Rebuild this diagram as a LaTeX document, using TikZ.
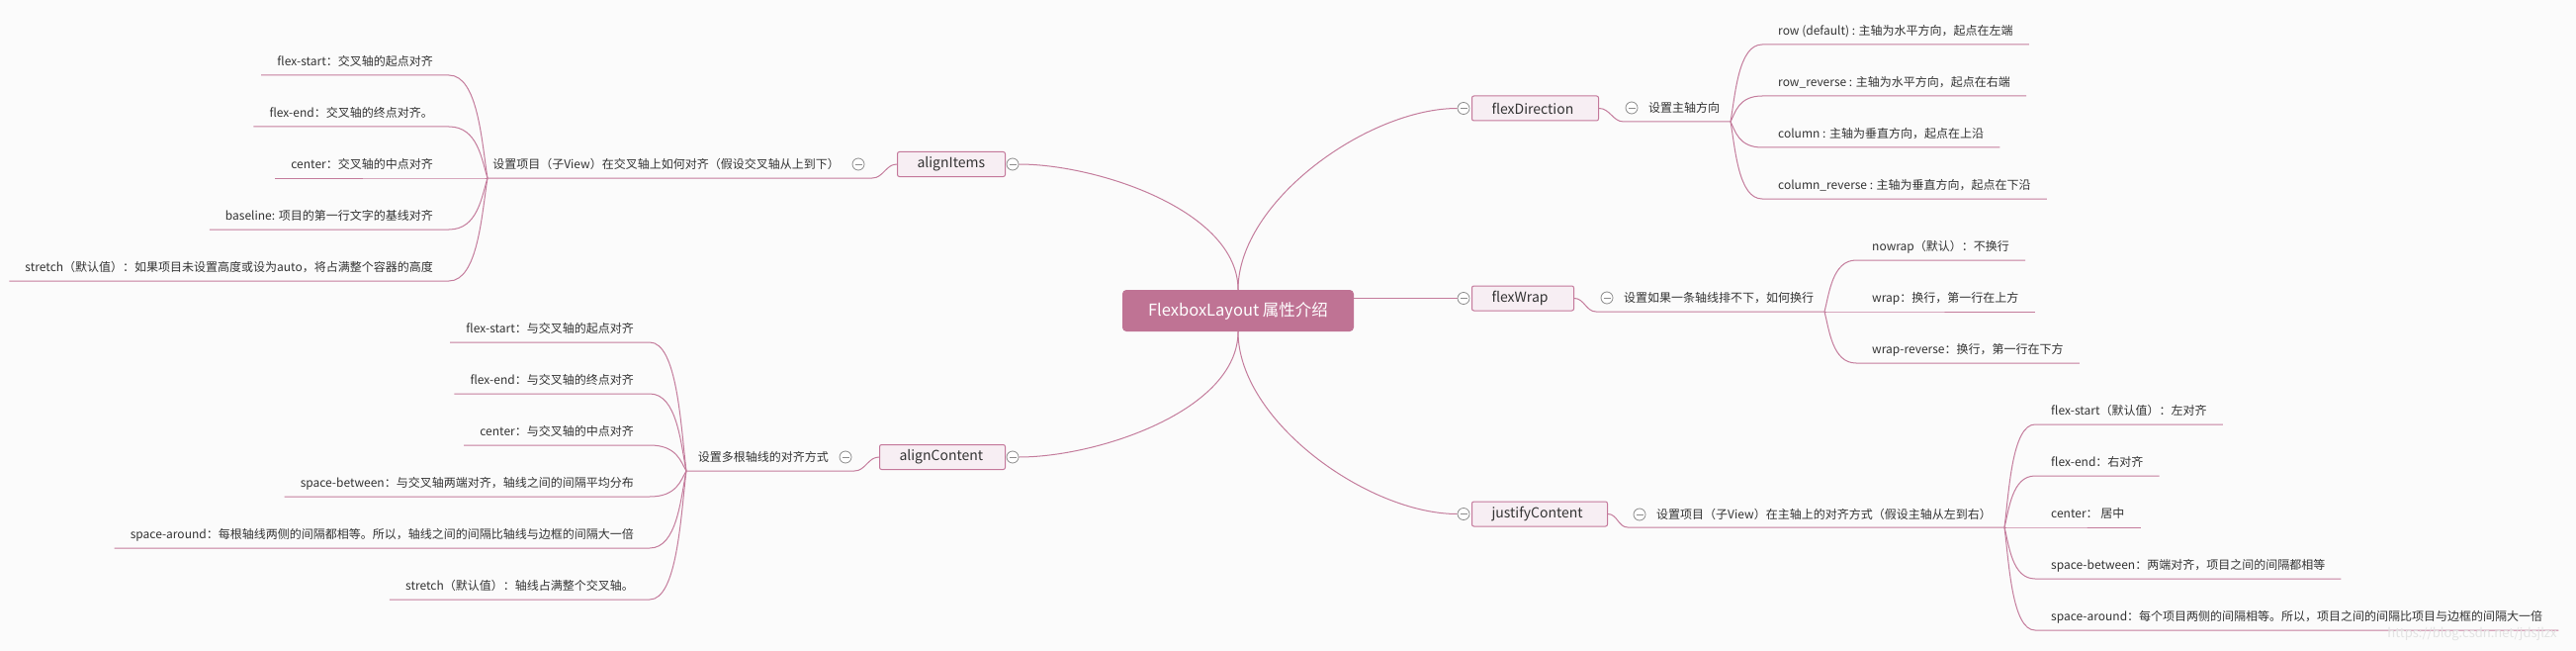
\documentclass[tikz,border=0pt]{standalone}
\usepackage{fontspec}
\setmainfont{Noto Sans CJK SC}
\usetikzlibrary{calc,backgrounds}
\definecolor{bg}{HTML}{FBFBFB}
\definecolor{rootfill}{HTML}{BF7394}
\definecolor{boxfill}{HTML}{F7EEF3}
\definecolor{boxline}{HTML}{C4789B}
\definecolor{linkc}{HTML}{C47C9C}
\definecolor{txt}{HTML}{333333}
\definecolor{btnc}{HTML}{8C8C8C}
\begin{document}
\begin{tikzpicture}[x=1pt,y=-1pt,
  conn/.style={draw=linkc, line width=1pt},
  rootbox/.style={rectangle, rounded corners=4pt, fill=rootfill, text=white, minimum width=234pt, minimum height=42pt, inner sep=0pt, font=\fontsize{16.5}{18}\selectfont},
  kbox/.style={rectangle, rounded corners=2pt, draw=boxline, line width=1pt, fill=boxfill, text=txt, minimum height=25pt, inner xsep=20pt, inner ysep=0pt, align=left, anchor=west, font=\fontsize{14}{16}\selectfont},
  btn/.style={circle, draw=btnc, fill=white, line width=0.8pt, minimum size=12pt, inner sep=0pt,
    path picture={\draw[btnc, line width=0.8pt] ([xshift=2.5pt]path picture bounding box.west) -- ([xshift=-2.5pt]path picture bounding box.east);}},
  sub/.style={inner sep=0pt, text=txt, font=\fontsize{12}{14}\selectfont, text height=9pt, text depth=3pt},
  leaf/.style={inner xsep=16pt, inner ysep=6.4pt, text=txt, font=\fontsize{12}{14}\selectfont, text height=9pt, text depth=3pt},
  leafR/.style={leaf, anchor=south west},
  leafL/.style={leaf, anchor=south east},
  branch/.style={to path={let \p1=(\tikztostart), \p2=(\tikztotarget) in
     .. controls ({\x1+0.15*(\x2-\x1)},{\y1+0.35*(\y2-\y1)}) and ({\x1+0.25*(\x2-\x1)},\y2) .. (\tikztotarget)}}
]
% root
\node[rootbox] (root) at (1252,314) {FlexboxLayout 属性介绍};
% first level boxes
\node[kbox, text width=88pt] (fd) at (1488,109.5) {flexDirection};
\node[kbox, text width=63pt] (fw) at (1488,301.5) {flexWrap};
\node[kbox, text width=97pt] (jc) at (1488,519.5) {justifyContent};
\node[kbox, text width=69pt] (ai) at (907,166) {alignItems};
\node[kbox, text width=87pt] (ac) at (889,462) {alignContent};
% collapse buttons
\node[btn] (fdC) at (1480,109.5) {};
\node[btn] (fwC) at (1480,301.5) {};
\node[btn] (jcC) at (1480,519.5) {};
\node[btn] (aiC) at (1024,166) {};
\node[btn] (acC) at (1024,462) {};
\node[btn] (fdsC) at (1650,109) {};
\node[btn] (fwsC) at (1625,301) {};
\node[btn] (jcsC) at (1658,520) {};
\node[btn] (aisC) at (868,166) {};
\node[btn] (acsC) at (855,462) {};
% subtitles
\node[sub, anchor=west] (fds) at (1667,110.5) {设置主轴方向};
\node[sub, anchor=west] (fws) at (1642,302.5) {设置如果一条轴线排不下，如何换行};
\node[sub, anchor=west] (jcs) at (1675,521.5) {设置项目（子View）在主轴上的对齐方式（假设主轴从左到右）};
\node[sub, anchor=east] (ais) at (849,167.5) {设置项目（子View）在交叉轴上如何对齐（假设交叉轴从上到下）};
\node[sub, anchor=east] (acs) at (838,463.5) {设置多根轴线的对齐方式};
% underline ends / branch points
\coordinate (fdU) at (1642,123); \coordinate (fdB) at (1750,123);
\coordinate (fwU) at (1614,315); \coordinate (fwB) at (1845,315);
\coordinate (jcU) at (1646,533); \coordinate (jcB) at (2027,533);
\coordinate (aiU) at (882,180);  \coordinate (aiB) at (493,180);
\coordinate (acU) at (864,476);  \coordinate (acB) at (694,476);
% leaves flexDirection
\node[leafR] (fd1) at (1782,45)  {row (default) : 主轴为水平方向，起点在左端};
\node[leafR] (fd2) at (1782,97)  {row\_reverse : 主轴为水平方向，起点在右端};
\node[leafR] (fd3) at (1782,149) {column : 主轴为垂直方向，起点在上沿};
\node[leafR] (fd4) at (1782,201) {column\_reverse : 主轴为垂直方向，起点在下沿};
% leaves flexWrap
\node[leafR] (fw1) at (1877,263) {nowrap（默认）：不换行};
\node[leafR] (fw2) at (1877,315) {wrap：换行，第一行在上方};
\node[leafR] (fw3) at (1877,367) {wrap-reverse：换行，第一行在下方};
% leaves justifyContent
\node[leafR] (jc1) at (2058,429) {flex-start（默认值）：左对齐};
\node[leafR] (jc2) at (2058,481) {flex-end：右对齐};
\node[leafR] (jc3) at (2058,533) {center： 居中};
\node[leafR] (jc4) at (2058,585) {space-between：两端对齐，项目之间的间隔都相等};
\node[leafR] (jc5) at (2058,637) {space-around：每个项目两侧的间隔相等。所以，项目之间的间隔比项目与边框的间隔大一倍};
% leaves alignItems
\node[leafL] (ai1) at (454,76)  {flex-start：交叉轴的起点对齐};
\node[leafL] (ai2) at (454,128) {flex-end：交叉轴的终点对齐。};
\node[leafL] (ai3) at (454,180) {center：交叉轴的中点对齐};
\node[leafL] (ai4) at (454,232) {baseline: 项目的第一行文字的基线对齐};
\node[leafL] (ai5) at (454,284) {stretch（默认值）：如果项目未设置高度或设为auto，将占满整个容器的高度};
% leaves alignContent
\node[leafL] (ac1) at (657,346) {flex-start：与交叉轴的起点对齐};
\node[leafL] (ac2) at (657,398) {flex-end：与交叉轴的终点对齐};
\node[leafL] (ac3) at (657,450) {center：与交叉轴的中点对齐};
\node[leafL] (ac4) at (657,502) {space-between：与交叉轴两端对齐，轴线之间的间隔平均分布};
\node[leafL] (ac5) at (657,554) {space-around：每根轴线两侧的间隔都相等。所以，轴线之间的间隔比轴线与边框的间隔大一倍};
\node[leafL] (ac6) at (657,606) {stretch（默认值）：轴线占满整个交叉轴。};
% watermark
\node[text=gray!22, font=\fontsize{13}{15}\selectfont] (wm) at (2500,641) {https://blog.csdn.net/jdsjlzx};

\begin{scope}[on background layer]
\fill[bg] (0,0) rectangle (2605,658);
% root connectors
\draw[conn] (root.north) to[out=90,in=0,looseness=0.8] (aiC.east);
\draw[conn] (root.north) to[out=90,in=180,looseness=0.8] (fdC.west);
\draw[conn] (root.east |- fwC.west) -- (fwC.west);
\draw[conn] (root.south) to[out=-90,in=0,looseness=0.8] (acC.east);
\draw[conn] (root.south) to[out=-90,in=180,looseness=0.8] (jcC.west);
% box to subtitle
\draw[conn] (fd.east) to[out=0,in=180] (fdU) -- (fdB);
\draw[conn] (fw.east) to[out=0,in=180] (fwU) -- (fwB);
\draw[conn] (jc.east) to[out=0,in=180] (jcU) -- (jcB);
\draw[conn] (ai.west) to[out=180,in=0] (aiU) -- (aiB);
\draw[conn] (ac.west) to[out=180,in=0] (acU) -- (acB);
% subtitle to leaves
\foreach \lf in {fd1,fd2,fd3,fd4} \draw[conn] (fdB) to[branch] (\lf.south west) -- (\lf.south east);
\foreach \lf in {fw1,fw2,fw3} \draw[conn] (fwB) to[branch] (\lf.south west) -- (\lf.south east);
\foreach \lf in {jc1,jc2,jc3,jc4,jc5} \draw[conn] (jcB) to[branch] (\lf.south west) -- (\lf.south east);
\foreach \lf in {ai1,ai2,ai3,ai4,ai5} \draw[conn] (aiB) to[branch] (\lf.south east) -- (\lf.south west);
\foreach \lf in {ac1,ac2,ac3,ac4,ac5,ac6} \draw[conn] (acB) to[branch] (\lf.south east) -- (\lf.south west);
\end{scope}
\end{tikzpicture}
\end{document}
